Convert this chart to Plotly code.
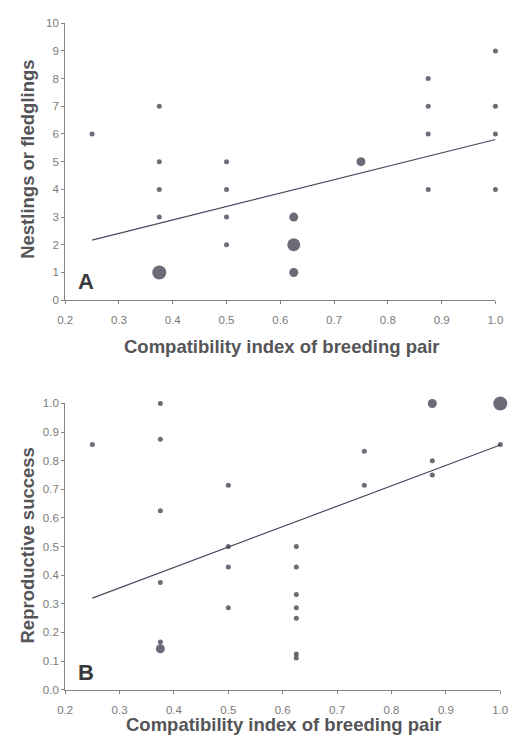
import plotly.graph_objects as go

# Panel A data
a_x = [0.25, 0.375, 0.375, 0.375, 0.375, 0.375, 0.5, 0.5, 0.5, 0.5,
       0.625, 0.625, 0.625, 0.75, 0.875, 0.875, 0.875, 0.875, 1.0, 1.0, 1.0, 1.0]
a_y = [6, 7, 5, 4, 3, 1, 5, 4, 3, 2, 3, 2, 1, 5, 8, 7, 6, 4, 9, 7, 6, 4]
a_n = [1, 1, 1, 1, 1, 4, 1, 1, 1, 1, 2, 3, 2, 2, 1, 1, 1, 1, 1, 1, 1, 1]
a_fit_x = [0.25, 1.0]
a_fit_y = [2.17, 5.8]

# Panel B data
b_x = [0.25, 0.375, 0.375, 0.375, 0.375, 0.375, 0.375, 0.5, 0.5, 0.5, 0.5,
       0.625, 0.625, 0.625, 0.625, 0.625, 0.625, 0.625, 0.75, 0.75,
       0.875, 0.875, 0.875, 1.0, 1.0]
b_y = [0.857, 1.0, 0.875, 0.625, 0.375, 0.167, 0.143, 0.714, 0.5, 0.429, 0.286,
       0.5, 0.429, 0.333, 0.286, 0.25, 0.125, 0.111, 0.833, 0.714,
       1.0, 0.8, 0.75, 1.0, 0.857]
b_n = [1, 1, 1, 1, 1, 1, 2, 1, 1, 1, 1, 1, 1, 1, 1, 1, 1, 1, 1, 1, 2, 1, 1, 4, 1]
b_fit_x = [0.25, 1.0]
b_fit_y = [0.32, 0.855]

x_ticks = [0.2, 0.3, 0.4, 0.5, 0.6, 0.7, 0.8, 0.9, 1.0]
a_ticks = list(range(0, 11))
b_ticks = [0.0, 0.1, 0.2, 0.3, 0.4, 0.5, 0.6, 0.7, 0.8, 0.9, 1.0]

x_title = "Compatibility index of breeding pair"
a_title = "Nestlings or fledglings"
b_title = "Reproductive success"

size_map = {1: 5, 2: 9, 3: 13, 4: 14}
dot = "#2e2e3e"
txt = "#7a7a7a"
ttl = "#555558"
axc = "#858585"
FAM = "Liberation Sans, Arial, sans-serif"

fig = go.Figure()
fig.add_trace(go.Scatter(x=a_fit_x, y=a_fit_y, mode="lines",
                         line=dict(color="#4a4a60", width=1.2),
                         xaxis="x", yaxis="y", showlegend=False))
fig.add_trace(go.Scatter(x=a_x, y=a_y, mode="markers",
                         marker=dict(color=dot, size=[size_map[n] for n in a_n], line=dict(width=0)),
                         xaxis="x", yaxis="y", showlegend=False, cliponaxis=False))
fig.add_trace(go.Scatter(x=b_fit_x, y=b_fit_y, mode="lines",
                         line=dict(color="#4a4a60", width=1.2),
                         xaxis="x2", yaxis="y2", showlegend=False))
fig.add_trace(go.Scatter(x=b_x, y=b_y, mode="markers",
                         marker=dict(color=dot, size=[size_map[n] for n in b_n], line=dict(width=0)),
                         xaxis="x2", yaxis="y2", showlegend=False, cliponaxis=False))

font_t = dict(family=FAM, size=11.5, color=txt)
font_title = dict(family=FAM, size=18.5, color=ttl)

common_ax = dict(showgrid=False, zeroline=False, showline=True, linecolor=axc, linewidth=1,
                 ticks="outside", ticklen=3, tickcolor=axc, tickfont=font_t)

W, H = 517, 740
fig.update_layout(
    width=W, height=H,
    margin=dict(l=0, r=0, t=0, b=0),
    paper_bgcolor="white", plot_bgcolor="white",
    xaxis=dict(domain=[59 / W, 503 / W], range=[0.2, 1.0], tickvals=x_ticks,
               ticktext=["%.1f" % v for v in x_ticks], anchor="y", ticklabelstandoff=6,
               **common_ax),
    yaxis=dict(domain=[1 - 299 / H, 1 - 17.5 / H], range=[0, 10], tickvals=a_ticks, anchor="x",
               **common_ax),
    xaxis2=dict(domain=[59 / W, 508 / W], range=[0.2, 1.0], tickvals=x_ticks,
                ticktext=["%.1f" % v for v in x_ticks], anchor="y2", ticklabelstandoff=6,
                **common_ax),
    yaxis2=dict(domain=[1 - 695 / H, 1 - 404 / H], range=[0, 1.0], tickvals=b_ticks,
                ticktext=["%.1f" % v for v in b_ticks], anchor="x2",
                **common_ax),
    annotations=[
        dict(text="<b>%s</b>" % x_title, x=283 / W, y=1 - 346 / H, xref="paper", yref="paper",
             showarrow=False, font=font_title, xanchor="center", yanchor="middle"),
        dict(text="<b>%s</b>" % x_title, x=285 / W, y=1 - 730 / H, xref="paper", yref="paper",
             showarrow=False, font=font_title, xanchor="center", yanchor="middle"),
        dict(text="<b>%s</b>" % a_title, x=20 / W, y=1 - 156 / H, xref="paper", yref="paper",
             showarrow=False, font=font_title, textangle=-90, xanchor="center", yanchor="middle"),
        dict(text="<b>%s</b>" % b_title, x=20 / W, y=1 - 548 / H, xref="paper", yref="paper",
             showarrow=False, font=font_title, textangle=-90, xanchor="center", yanchor="middle"),
        dict(text="<b>A</b>", x=81 / W, y=1 - 280 / H, xref="paper", yref="paper",
             showarrow=False, font=dict(family=FAM, size=22, color="#3a3a3e"),
             xanchor="center", yanchor="middle"),
        dict(text="<b>B</b>", x=80 / W, y=1 - 677 / H, xref="paper", yref="paper",
             showarrow=False, font=dict(family=FAM, size=22, color="#3a3a3e"),
             xanchor="center", yanchor="middle"),
    ],
)

fig.write_html("out.html")
